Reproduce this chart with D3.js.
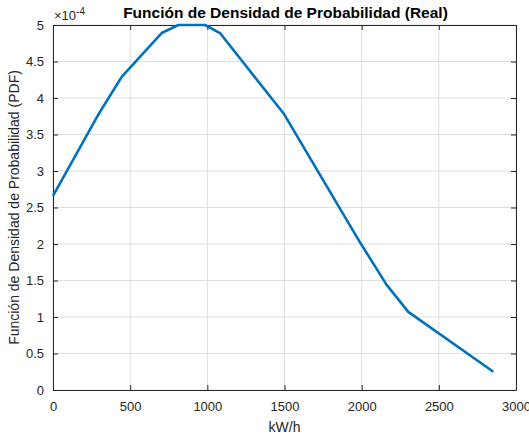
<!DOCTYPE html>
<html>
<head>
<meta charset="utf-8">
<script src="https://cdn.jsdelivr.net/npm/d3@7"></script>
<style>
    body { margin: 0; background: #fff; }
    text { font-family: "Liberation Sans", Arial, sans-serif; }
</style>
</head>
<body>
<div id="chart"></div>
<script>
const width = 529;
const height = 437;

// data (PDF values in units of 1e-4)
const kwh = [0, 290, 445, 704, 812, 985, 1082, 1497, 1990, 2162, 2302, 2853];
const pdf = [2.66, 3.76, 4.29, 4.89, 5.0, 5.0, 4.89, 3.78, 2.02, 1.44, 1.07, 0.25];
const xTicks = [0, 500, 1000, 1500, 2000, 2500, 3000];
const yTicks = [0, 0.5, 1, 1.5, 2, 2.5, 3, 3.5, 4, 4.5, 5];

const margin = { left: 53, right: 13, top: 25, bottom: 47 };
const innerW = width - margin.left - margin.right;
const innerH = height - margin.top - margin.bottom;

const svg = d3.select("#chart")
    .append("svg")
    .attr("width", width)
    .attr("height", height);

const g = svg.append("g").attr("transform", `translate(${margin.left},${margin.top})`);

const x = d3.scaleLinear().domain([0, 3000]).range([0, innerW]);
const y = d3.scaleLinear().domain([0, 5]).range([innerH, 0]);

// grid
g.selectAll(".gx").data(xTicks).enter().append("line")
    .attr("x1", d => x(d)).attr("x2", d => x(d))
    .attr("y1", 0).attr("y2", innerH)
    .attr("stroke", "#dfdfdf").attr("stroke-width", 1);
g.selectAll(".gy").data(yTicks).enter().append("line")
    .attr("x1", 0).attr("x2", innerW)
    .attr("y1", d => y(d)).attr("y2", d => y(d))
    .attr("stroke", "#dfdfdf").attr("stroke-width", 1);

// axes (ticks pointing inward, matlab style)
const xAxis = g.append("g").attr("transform", `translate(0,${innerH})`)
    .call(d3.axisBottom(x).tickValues(xTicks).tickFormat(d3.format("d")).tickSizeInner(-5).tickSizeOuter(0).tickPadding(12));
const yAxis = g.append("g")
    .call(d3.axisLeft(y).tickValues(yTicks).tickFormat(d3.format("")).tickSizeInner(-5).tickSizeOuter(0).tickPadding(9));

// top and right edges of the box
const topAxis = g.append("g").call(d3.axisTop(x).tickValues(xTicks).tickSizeInner(-5).tickSizeOuter(0).tickFormat(""));
const rightAxis = g.append("g").attr("transform", `translate(${innerW},0)`)
    .call(d3.axisRight(y).tickValues(yTicks).tickSizeInner(-5).tickSizeOuter(0).tickFormat(""));

[xAxis, yAxis, topAxis, rightAxis].forEach(a => {
    a.select(".domain").attr("stroke", "#262626");
    a.selectAll(".tick line").attr("stroke", "#262626");
    a.selectAll(".tick text").attr("fill", "#262626").style("font-size", "13px");
});

// curve
g.append("path")
    .datum(kwh.map((k, i) => [k, pdf[i]]))
    .attr("fill", "none")
    .attr("stroke", "#0072BD")
    .attr("stroke-width", 2.6)
    .attr("stroke-linejoin", "round")
    .attr("d", d3.line().x(d => x(d[0])).y(d => y(d[1])));

// exponent label
const ex = svg.append("text")
    .attr("x", margin.left + 1)
    .attr("y", 20)
    .attr("fill", "#262626")
    .style("font-size", "13px");
ex.append("tspan").text("\u00d710");
ex.append("tspan").attr("dy", -5).style("font-size", "10px").text("-4");

// title
svg.append("text")
    .attr("x", margin.left + innerW / 2 + 1)
    .attr("y", 18)
    .attr("text-anchor", "middle")
    .style("font-size", "15.5px")
    .style("font-weight", "bold")
    .attr("fill", "#000")
    .text("Función de Densidad de Probabilidad (Real)");

// axis labels
svg.append("text")
    .attr("x", margin.left + innerW / 2)
    .attr("y", 432)
    .attr("text-anchor", "middle")
    .attr("fill", "#262626")
    .style("font-size", "14px")
    .text("kW/h");

svg.append("text")
    .attr("transform", `translate(19,${margin.top + innerH / 2}) rotate(-90)`)
    .attr("text-anchor", "middle")
    .attr("fill", "#262626")
    .style("font-size", "14px")
    .text("Función de Densidad de Probabilidad (PDF)");
</script>
</body>
</html>
